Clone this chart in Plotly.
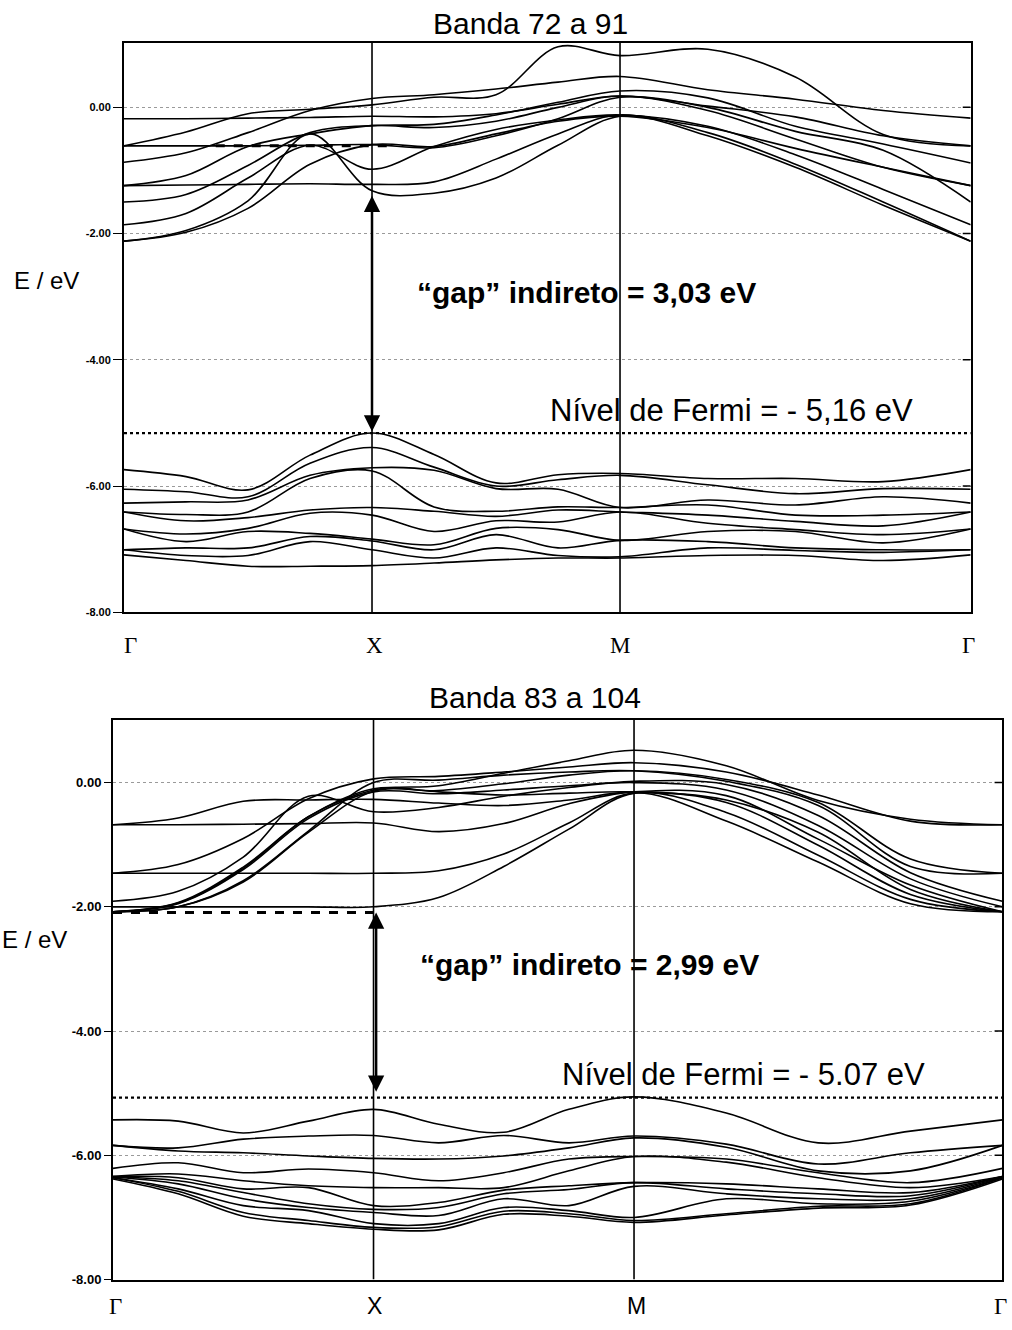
import plotly.graph_objects as go

W, H = 1012, 1330

# ---------------- data ----------------
K = [0, 0.25, 0.5, 0.75, 1.0, 1.25, 1.5, 1.75, 2.0, 2.354, 2.707, 3.061, 3.414]
K_SYM = [0, 1, 2, 3.414]
K_LABELS = ["Γ", "X", "M", "Γ"]
E_TICKS = [0, -2, -4, -6, -8]
E_LABELS = ["0.00", "-2.00", "-4.00", "-6.00", "-8.00"]

TOP_CONDUCTION = [
    [-0.61, -0.39, -0.10, -0.03, 0.04, 0.16, 0.20, 0.96, 0.82, 0.92, 0.48, -0.43, -0.61],
    [-0.87, -0.72, -0.40, -0.05, 0.14, 0.20, 0.29, 0.40, 0.49, 0.28, 0.13, -0.05, -0.17],
    [-0.18, -0.18, -0.17, -0.16, -0.14, -0.15, -0.10, 0.05, 0.18, 0.02, -0.15, -0.45, -0.61],
    [-1.24, -1.08, -0.62, -0.42, -0.29, -0.27, -0.12, 0.08, 0.26, 0.15, -0.30, -0.58, -0.88],
    [-1.50, -1.38, -0.92, -0.40, -0.29, -0.32, -0.22, 0.00, 0.18, -0.05, -0.50, -0.95, -1.24],
    [-0.61, -0.61, -0.61, -0.60, -0.59, -0.64, -0.45, -0.18, 0.16, 0.00, -0.38, -0.68, -1.50],
    [-1.86, -1.68, -1.12, -0.60, -0.98, -0.62, -0.35, -0.20, -0.12, -0.30, -0.75, -1.30, -1.86],
    [-1.24, -1.23, -1.22, -1.21, -1.22, -1.18, -0.82, -0.42, -0.12, -0.45, -0.95, -1.55, -2.12],
    [-2.12, -1.95, -1.48, -0.42, -1.32, -1.36, -1.12, -0.60, -0.14, -0.40, -0.90, -1.50, -2.12],
    [-2.12, -1.98, -1.60, -0.90, -0.59, -0.62, -0.42, -0.22, -0.14, -0.32, -0.65, -0.95, -1.24],
]

TOP_VALENCE = [
    [-5.74, -5.85, -6.06, -5.51, -5.16, -5.50, -5.95, -5.82, -5.80, -5.88, -5.88, -5.93, -5.74],
    [-6.05, -6.09, -6.17, -5.64, -5.39, -5.70, -6.00, -5.90, -5.83, -5.98, -6.12, -6.04, -6.05],
    [-6.27, -6.25, -6.22, -5.83, -5.71, -5.75, -6.04, -6.05, -6.34, -6.22, -6.30, -6.17, -6.27],
    [-6.41, -6.45, -6.41, -5.88, -5.76, -6.33, -6.40, -6.33, -6.34, -6.30, -6.46, -6.46, -6.41],
    [-6.41, -6.55, -6.50, -6.38, -6.34, -6.40, -6.48, -6.38, -6.41, -6.46, -6.56, -6.63, -6.41],
    [-6.68, -6.76, -6.67, -6.43, -6.46, -6.72, -6.55, -6.57, -6.41, -6.59, -6.69, -6.77, -6.68],
    [-6.68, -6.88, -6.72, -6.75, -6.84, -6.93, -6.67, -6.69, -6.86, -6.72, -6.72, -6.90, -6.68],
    [-7.01, -6.98, -6.98, -6.80, -6.87, -7.01, -6.77, -6.98, -6.86, -6.88, -6.98, -7.01, -7.01],
    [-7.01, -7.10, -7.10, -6.88, -7.01, -7.14, -6.98, -7.10, -7.12, -6.98, -7.02, -7.05, -7.01],
    [-7.09, -7.18, -7.27, -7.27, -7.26, -7.22, -7.17, -7.14, -7.14, -7.10, -7.10, -7.18, -7.09],
]

BOTTOM_CONDUCTION = [
    [-0.68, -0.68, -0.67, -0.66, -0.65, -0.79, -0.66, -0.34, -0.15, -0.21, -0.91, -1.65, -2.08],
    [-0.68, -0.57, -0.30, -0.28, -0.27, -0.33, -0.37, -0.28, -0.15, -0.32, -1.01, -1.80, -2.08],
    [-1.46, -1.46, -1.46, -1.46, -1.46, -1.42, -1.15, -0.65, -0.17, -0.62, -1.28, -1.95, -2.08],
    [-1.46, -1.32, -0.90, -0.26, 0.06, 0.10, 0.17, 0.25, 0.32, 0.17, -0.20, -0.62, -0.68],
    [-1.91, -1.75, -1.20, -0.22, -0.47, -0.40, -0.22, -0.08, 0.02, -0.03, -0.53, -1.45, -1.91],
    [-2.00, -2.00, -2.00, -2.00, -2.00, -1.85, -1.35, -0.75, -0.17, -0.48, -1.17, -1.88, -2.08],
    [-2.08, -1.94, -1.38, -0.55, -0.12, -0.05, 0.15, 0.35, 0.52, 0.27, -0.29, -0.59, -0.68],
    [-2.08, -2.00, -1.60, -0.80, -0.14, -0.13, -0.02, 0.12, 0.19, 0.05, -0.32, -1.23, -1.46],
    [-2.08, -1.95, -1.40, -0.58, -0.15, -0.18, -0.12, -0.05, 0.00, -0.12, -0.69, -1.55, -2.00],
    [-2.08, -2.00, -1.58, -0.78, 0.00, 0.04, 0.12, 0.17, 0.19, 0.02, -0.37, -1.35, -1.46],
    [-2.08, -1.93, -1.36, -0.55, -0.10, -0.15, -0.20, -0.17, -0.15, -0.28, -0.80, -1.72, -2.08],
]

BOTTOM_VALENCE = [
    [-5.43, -5.45, -5.64, -5.45, -5.26, -5.50, -5.63, -5.26, -5.06, -5.32, -5.80, -5.61, -5.43],
    [-5.84, -5.88, -5.74, -5.69, -5.68, -5.80, -5.68, -5.80, -5.69, -5.82, -6.14, -5.96, -5.84],
    [-5.84, -5.93, -5.96, -6.01, -6.05, -6.06, -6.01, -5.88, -5.72, -5.87, -6.25, -6.25, -5.84],
    [-6.21, -6.12, -6.28, -6.22, -6.28, -6.41, -6.28, -6.06, -6.02, -6.06, -6.28, -6.44, -6.21],
    [-6.34, -6.30, -6.41, -6.49, -6.52, -6.52, -6.52, -6.25, -6.02, -6.11, -6.36, -6.52, -6.34],
    [-6.34, -6.36, -6.54, -6.52, -6.81, -6.76, -6.56, -6.49, -6.44, -6.46, -6.54, -6.60, -6.34],
    [-6.34, -6.41, -6.60, -6.78, -6.87, -6.84, -6.62, -6.55, -6.44, -6.54, -6.62, -6.65, -6.34],
    [-6.35, -6.46, -6.70, -6.84, -6.92, -6.97, -6.70, -6.81, -6.50, -6.62, -6.70, -6.70, -6.35],
    [-6.36, -6.54, -6.81, -6.89, -7.10, -7.10, -6.84, -6.89, -7.00, -6.70, -6.78, -6.74, -6.36],
    [-6.36, -6.58, -6.92, -7.05, -7.16, -7.15, -6.90, -6.94, -7.05, -6.94, -6.82, -6.78, -6.36],
    [-6.38, -6.62, -6.98, -7.10, -7.19, -7.20, -6.95, -6.98, -7.08, -6.96, -6.85, -6.80, -6.38],
]

TOP_FERMI = -5.16
BOTTOM_FERMI = -5.07
TOP_GAP_ENDS = [-1.40, -5.16]
BOTTOM_GAP_ENDS = [-2.09, -5.00]
TOP_DASH = [0.37, 1.08, -0.61]
BOTTOM_DASH = [0.0, 1.0, -2.09]

TOP_TITLE = "Banda 72 a 91"
BOTTOM_TITLE = "Banda 83 a 104"
TOP_GAP_TEXT = "“gap” indireto = 3,03 eV"
BOTTOM_GAP_TEXT = "“gap” indireto = 2,99 eV"
TOP_FERMI_TEXT = "Nível de Fermi = - 5,16 eV"
BOTTOM_FERMI_TEXT = "Nível de Fermi = - 5.07 eV"
Y_TITLE = "E / eV"

# ---------------- figure ----------------
def px(x):
    return x / W


def py(y):
    return 1 - y / H


SANS = "Arial, Liberation Sans, sans-serif"
SERIF = "Times New Roman, Liberation Serif, serif"
NARROW = "Liberation Sans Narrow, Arial Narrow, Arial, sans-serif"

fig = go.Figure()

for bands, xa, ya in [(TOP_CONDUCTION + TOP_VALENCE, "x", "y"),
                      (BOTTOM_CONDUCTION + BOTTOM_VALENCE, "x2", "y2")]:
    for b in bands:
        fig.add_trace(go.Scatter(
            x=K, y=b, mode="lines", xaxis=xa, yaxis=ya,
            line=dict(color="black", width=1.6, shape="spline", smoothing=1.0),
            hoverinfo="skip", showlegend=False))

k_end = K_SYM[-1]


def xaxis(dom):
    return dict(domain=dom, range=[0, k_end], showticklabels=False, ticks="",
                showgrid=False, zeroline=False, showline=True, mirror=True,
                linecolor="black", linewidth=2, fixedrange=True)


def yaxis(dom, top, ticklen, font):
    return dict(domain=dom, range=[-8, top], tickvals=E_TICKS,
                ticktext=["<b>%s</b>" % t for t in E_LABELS],
                ticks="outside", ticklen=ticklen, tickwidth=1, tickcolor="black",
                tickfont=font, showgrid=True, gridcolor="#9a9a9a", griddash="dot",
                gridwidth=1, zeroline=False, showline=True, mirror=True,
                linecolor="black", linewidth=2, fixedrange=True)


fig.update_layout(
    width=W, height=H, margin=dict(l=0, r=0, t=0, b=0),
    paper_bgcolor="white", plot_bgcolor="white", showlegend=False,
    xaxis=dict(xaxis([px(124), px(970.7)]), anchor="y"),
    yaxis=dict(yaxis([py(616), py(43)], 1.024, 9,
                     dict(family=SANS, size=11, color="black")), anchor="x"),
    xaxis2=dict(xaxis([px(113), px(1002.4)]), anchor="y2"),
    yaxis2=dict(yaxis([py(1287.3), py(724)], 1.013, 7,
                      dict(family=NARROW, size=13, color="black")), anchor="x2"),
)

shapes = []
for xr, yr, top, fermi, dash, tick_k in [("x", "y", 1.024, TOP_FERMI, TOP_DASH, 0.032),
                                         ("x2", "y2", 1.013, BOTTOM_FERMI, BOTTOM_DASH, 0.03)]:
    for kv in K_SYM[1:3]:
        shapes.append(dict(type="line", xref=xr, yref=yr, x0=kv, x1=kv, y0=-8, y1=top,
                           line=dict(color="black", width=1.6), layer="above"))
    shapes.append(dict(type="line", xref=xr, yref=yr, x0=0, x1=k_end, y0=fermi, y1=fermi,
                       line=dict(color="black", width=2.2, dash="dot"), layer="above"))
    shapes.append(dict(type="line", xref=xr, yref=yr, x0=dash[0], x1=dash[1], y0=dash[2],
                       y1=dash[2], line=dict(color="black", width=3, dash="dash"),
                       layer="above"))
    # small inward ticks on the right border
    for ev in E_TICKS[:-1]:
        shapes.append(dict(type="line", xref=xr, yref=yr, x0=k_end - tick_k, x1=k_end,
                           y0=ev, y1=ev, line=dict(color="black", width=1.5), layer="above"))
fig.update_layout(shapes=shapes)

ann = []
# double arrows
for xr, yr, ends, kx in [("x", "y", TOP_GAP_ENDS, 1.0), ("x2", "y2", BOTTOM_GAP_ENDS, 1.01)]:
    ann.append(dict(x=kx, y=ends[0], ax=kx, ay=ends[1], xref=xr, yref=yr, axref=xr, ayref=yr,
                    text="", showarrow=True, arrowhead=2, startarrowhead=2,
                    arrowside="end+start", arrowsize=1.3, startarrowsize=1.3,
                    arrowwidth=2.5, arrowcolor="black", standoff=0, startstandoff=0))


def text(x, y, s, size, bold=False, family=SANS):
    ann.append(dict(x=px(x), y=py(y), xref="paper", yref="paper", showarrow=False,
                    text=("<b>%s</b>" % s) if bold else s, xanchor="center", yanchor="middle",
                    font=dict(family=family, size=size, color="black")))


text(530, 24, TOP_TITLE, 30)
text(535, 702, BOTTOM_TITLE, 30)
text(586, 294, TOP_GAP_TEXT, 30, bold=True)
text(589, 970, BOTTOM_GAP_TEXT, 30, bold=True)
text(731, 413, TOP_FERMI_TEXT, 31)
text(743, 1081, BOTTOM_FERMI_TEXT, 31)
text(46, 282, Y_TITLE, 24)
text(34, 945, Y_TITLE, 24)

# k-point labels
top_x = [130, 374, 620, 968]
bot_x = [115, 374, 636, 1000]
for i, lab in enumerate(K_LABELS):
    text(top_x[i], 649, lab, 23, family=SERIF)
    text(bot_x[i], 1314, lab, 23, family=SERIF if lab == "Γ" else NARROW)

fig.update_layout(annotations=ann)

fig.write_html("out.html")
